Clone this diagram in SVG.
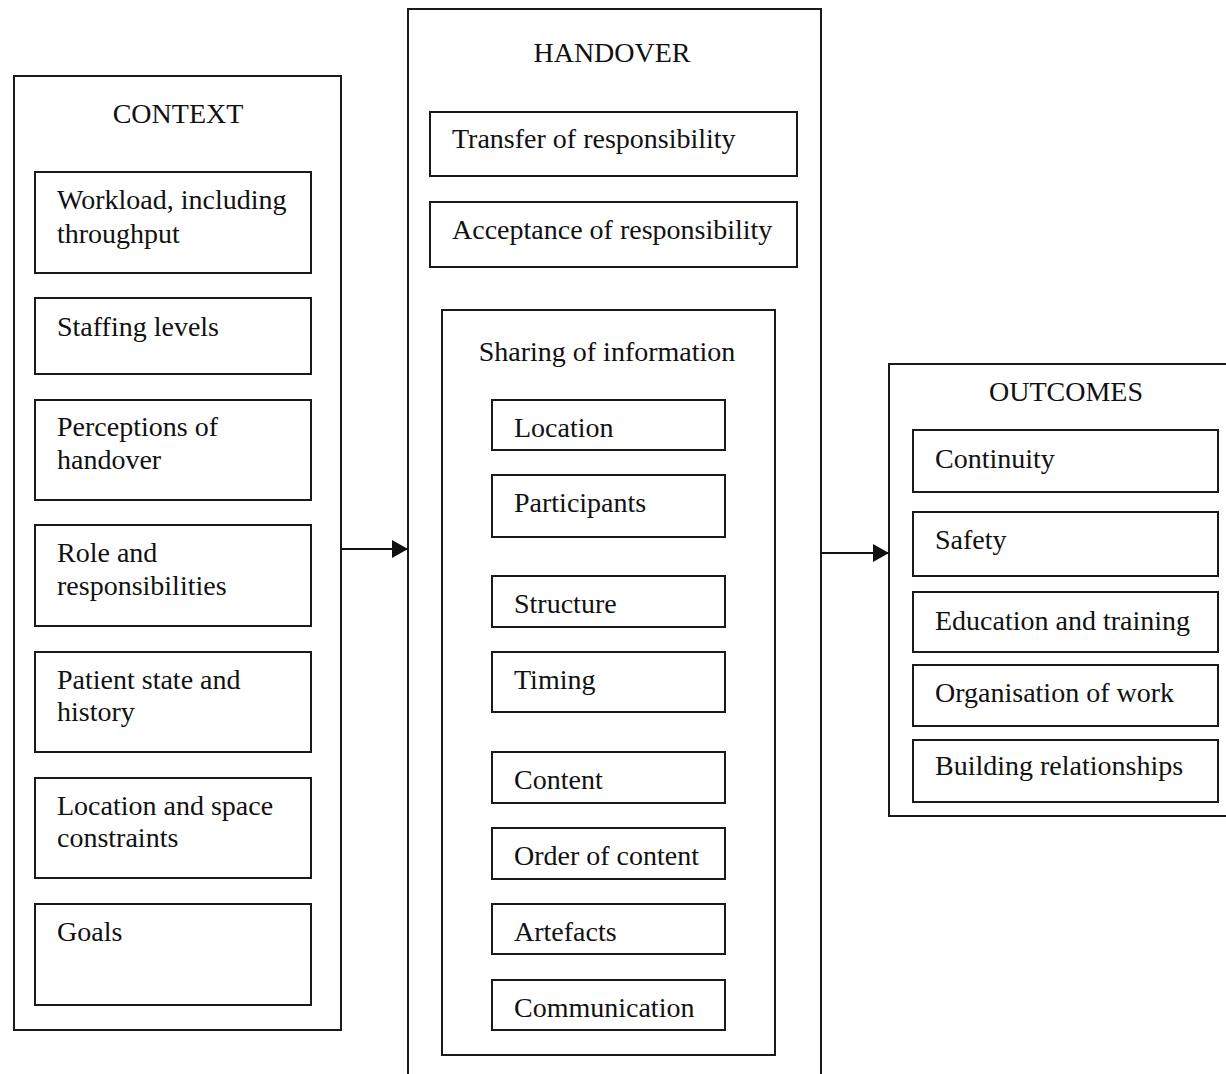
<svg xmlns="http://www.w3.org/2000/svg" width="1226" height="1074" viewBox="0 0 1226 1074">
<style>
rect{fill:#fff;stroke:#1a1a1a;stroke-width:2}
text{font-family:"Liberation Serif","Times New Roman",serif;font-size:28px;fill:#111}
.t{text-anchor:middle}
.c{stroke:#111;stroke-width:2;fill:none}
</style>
<defs>
<marker id="ah" markerWidth="17" markerHeight="18" refX="16" refY="9" orient="auto" markerUnits="userSpaceOnUse">
<path d="M0,0 L16,9 L0,18 Z" fill="#111"/>
</marker>
</defs>
<rect x="0" y="0" width="1226" height="1074" style="fill:#fff;stroke:none"/>
<g id="context">
<rect x="14" y="76" width="327" height="954"/>
<text class="t" x="178" y="123">CONTEXT</text>
</g>
<g id="workload"><rect x="35" y="172" width="276" height="101"/><text x="57" y="209">Workload, including</text><text x="57" y="243">throughput</text></g>
<g id="staffing"><rect x="35" y="298" width="276" height="76"/><text x="57" y="336">Staffing levels</text></g>
<g id="perceptions"><rect x="35" y="400" width="276" height="100"/><text x="57" y="436">Perceptions of</text><text x="57" y="469">handover</text></g>
<g id="role"><rect x="35" y="525" width="276" height="101"/><text x="57" y="562">Role and</text><text x="57" y="595">responsibilities</text></g>
<g id="patient"><rect x="35" y="652" width="276" height="100"/><text x="57" y="689">Patient state and</text><text x="57" y="721">history</text></g>
<g id="location-space"><rect x="35" y="778" width="276" height="100"/><text x="57" y="815">Location and space</text><text x="57" y="847">constraints</text></g>
<g id="goals"><rect x="35" y="904" width="276" height="101"/><text x="57" y="941">Goals</text></g>

<g id="handover">
<rect x="408" y="9" width="413" height="1080"/>
<text class="t" x="612" y="62">HANDOVER</text>
</g>
<g id="transfer"><rect x="430" y="112" width="367" height="64"/><text x="452" y="148">Transfer of responsibility</text></g>
<g id="acceptance"><rect x="430" y="202" width="367" height="65"/><text x="452" y="239">Acceptance of responsibility</text></g>
<g id="sharing">
<rect x="442" y="310" width="333" height="745"/>
<text class="t" x="607" y="361">Sharing of information</text>
</g>
<g id="location"><rect x="492" y="400" width="233" height="50"/><text x="514" y="437">Location</text></g>
<g id="participants"><rect x="492" y="475" width="233" height="62"/><text x="514" y="512">Participants</text></g>
<g id="structure"><rect x="492" y="576" width="233" height="51"/><text x="514" y="613">Structure</text></g>
<g id="timing"><rect x="492" y="652" width="233" height="60"/><text x="514" y="689">Timing</text></g>
<g id="content"><rect x="492" y="752" width="233" height="51"/><text x="514" y="789">Content</text></g>
<g id="order"><rect x="492" y="828" width="233" height="51"/><text x="514" y="865">Order of content</text></g>
<g id="artefacts"><rect x="492" y="904" width="233" height="50"/><text x="514" y="941">Artefacts</text></g>
<g id="communication"><rect x="492" y="980" width="233" height="50"/><text x="514" y="1017">Communication</text></g>

<g id="outcomes">
<rect x="889" y="364" width="340" height="452"/>
<text class="t" x="1066" y="401">OUTCOMES</text>
</g>
<g id="continuity"><rect x="913" y="430" width="305" height="62"/><text x="935" y="468">Continuity</text></g>
<g id="safety"><rect x="913" y="512" width="305" height="64"/><text x="935" y="549">Safety</text></g>
<g id="education"><rect x="913" y="592" width="305" height="60"/><text x="935" y="630">Education and training</text></g>
<g id="organisation"><rect x="913" y="665" width="305" height="61"/><text x="935" y="702">Organisation of work</text></g>
<g id="building"><rect x="913" y="740" width="305" height="62"/><text x="935" y="775">Building relationships</text></g>

<g id="connectors">
<line class="c" x1="341" y1="549" x2="408" y2="549" marker-end="url(#ah)"/>
<line class="c" x1="821" y1="553" x2="889" y2="553" marker-end="url(#ah)"/>
</g>
</svg>
